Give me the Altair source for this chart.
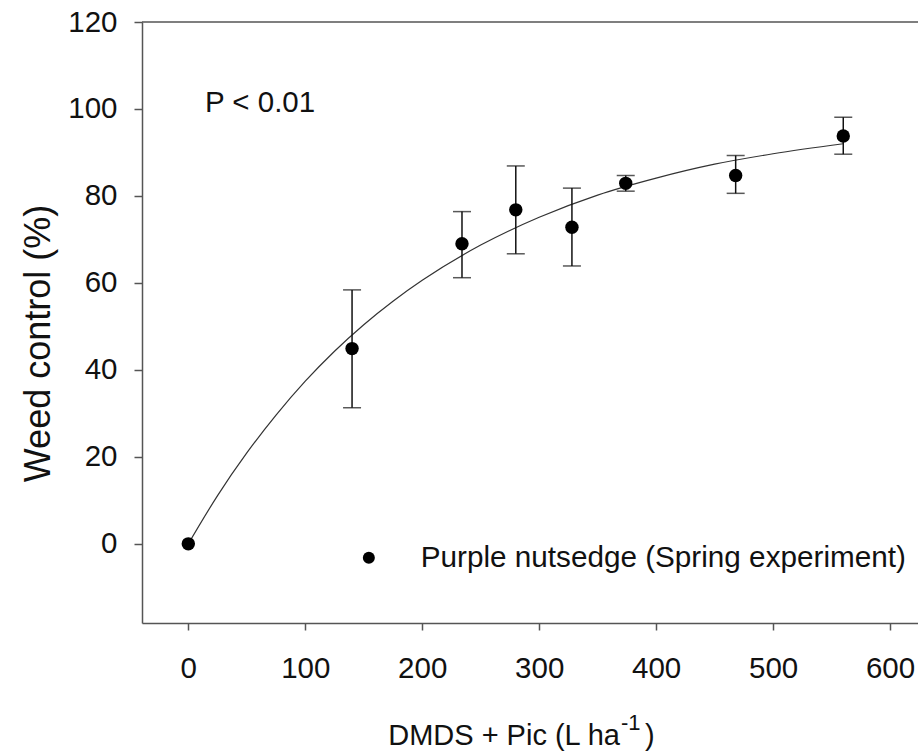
import altair as alt
import pandas as pd

# Mean weed control by application rate
dose = [0, 140, 234, 280, 328, 374, 468, 560]
control = [0.0, 44.9, 69.0, 76.8, 72.8, 82.9, 84.7, 93.8]
# Error bar limits (no bar at the untreated control)
err_lo = [None, 31.3, 61.2, 66.7, 63.9, 81.1, 80.6, 89.6]
err_hi = [None, 58.4, 76.4, 86.9, 81.8, 84.7, 89.3, 98.1]

# Fitted response curve
curve_x = [0, 25, 50, 75, 100, 125, 150, 175, 200, 250, 300, 350, 400, 450, 500, 560]
curve_y = [0, 11.1, 20.9, 29.6, 37.4, 44.3, 50.4, 55.8, 60.6, 68.7, 75.1, 80.2, 84.1, 87.3, 89.7, 92.0]

series_name = "Purple nutsedge (Spring experiment)"
x_ticks = [0, 100, 200, 300, 400, 500, 600]
y_ticks = [0, 20, 40, 60, 80, 100, 120]

FONT = "Liberation Sans"
INK = "#111111"
AXIS = "#555555"
W, H = 776, 601
TICK_FS = 29.5

pts = pd.DataFrame({"dose": dose, "control": control, "series": series_name})
errs = pd.DataFrame({"dose": dose, "lo": err_lo, "hi": err_hi}).dropna()
curve = pd.DataFrame({"dose": curve_x, "fit": curve_y})

xscale = alt.Scale(domain=[-39.6, 623.9], nice=False, zero=False)
yscale = alt.Scale(domain=[-18.2, 120], nice=False, zero=False)

xaxis = alt.Axis(values=x_ticks, title=None, grid=False, tickSize=7, labelPadding=24,
                 labelFontSize=TICK_FS, labelFont=FONT, labelColor=INK,
                 domainColor=AXIS, domainWidth=1.5, tickColor=AXIS, tickWidth=1.5,
                 labelFlush=False)
yaxis = alt.Axis(values=y_ticks, grid=False, tickSize=8, labelPadding=17,
                 labelFontSize=TICK_FS, labelFont=FONT, labelColor=INK,
                 domainColor=AXIS, domainWidth=1.5, tickColor=AXIS, tickWidth=1.5,
                 title="Weed control (%)", titleFont=FONT, titleFontSize=36,
                 titleFontWeight="normal", titleColor=INK, titleAngle=-90,
                 titleX=-93, titleY=321, titleAlign="center", titleBaseline="alphabetic")

line = alt.Chart(curve).mark_line(color="#333333", strokeWidth=1.2, interpolate="monotone").encode(
    x=alt.X("dose:Q", scale=xscale, axis=xaxis),
    y=alt.Y("fit:Q", scale=yscale, axis=yaxis),
)

bars = alt.Chart(errs).mark_rule(color=INK, strokeWidth=1.5).encode(
    x=alt.X("dose:Q", scale=xscale),
    y=alt.Y("lo:Q", scale=yscale),
    y2="hi:Q",
)
cap_lo = alt.Chart(errs).mark_tick(color=INK, thickness=1.5, size=18, orient="horizontal").encode(
    x=alt.X("dose:Q", scale=xscale),
    y=alt.Y("lo:Q", scale=yscale),
)
cap_hi = alt.Chart(errs).mark_tick(color=INK, thickness=1.5, size=18, orient="horizontal").encode(
    x=alt.X("dose:Q", scale=xscale),
    y=alt.Y("hi:Q", scale=yscale),
)

points = alt.Chart(pts).mark_point(filled=True, size=180, opacity=1, shape="circle").encode(
    x=alt.X("dose:Q", scale=xscale),
    y=alt.Y("control:Q", scale=yscale),
    color=alt.Color("series:N", scale=alt.Scale(range=["black"]),
                    legend=alt.Legend(title=None, orient="none", legendX=212, legendY=521,
                                      symbolSize=144, symbolType="circle",
                                      symbolFillColor="black", symbolStrokeWidth=0,
                                      labelFontSize=29.7, labelFont=FONT, labelColor=INK,
                                      labelOffset=37, padding=0, labelLimit=800)),
)

# Top frame line
frame_top = alt.Chart(pd.DataFrame({"k": [0]})).mark_rule(color=AXIS, strokeWidth=1.5).encode(
    x=alt.value(0), x2=alt.value(W), y=alt.value(0)
)

def label(text, x, y, size, align="left"):
    return alt.Chart(pd.DataFrame({"t": [text]})).mark_text(
        font=FONT, fontSize=size, color=INK, align=align, baseline="alphabetic"
    ).encode(x=alt.value(x), y=alt.value(y), text="t:N")

p_label = label("P < 0.01", 63, 90, 29.5)
xt_main = label("DMDS + Pic (L ha", 478, 723, 29, align="right")
xt_sup = label("-1", 479, 708, 22)
xt_close = label(")", 503, 723, 29)

chart = alt.layer(
    frame_top, line, bars, cap_lo, cap_hi, points, p_label, xt_main, xt_sup, xt_close
).properties(
    width=W, height=H,
    autosize=alt.AutoSizeParams(type="none"),
    padding={"left": 142, "top": 22, "right": 0, "bottom": 131},
    background="white",
).configure_view(stroke=None)

chart.save("out.html", embed_options={"renderer": "svg", "actions": False})
